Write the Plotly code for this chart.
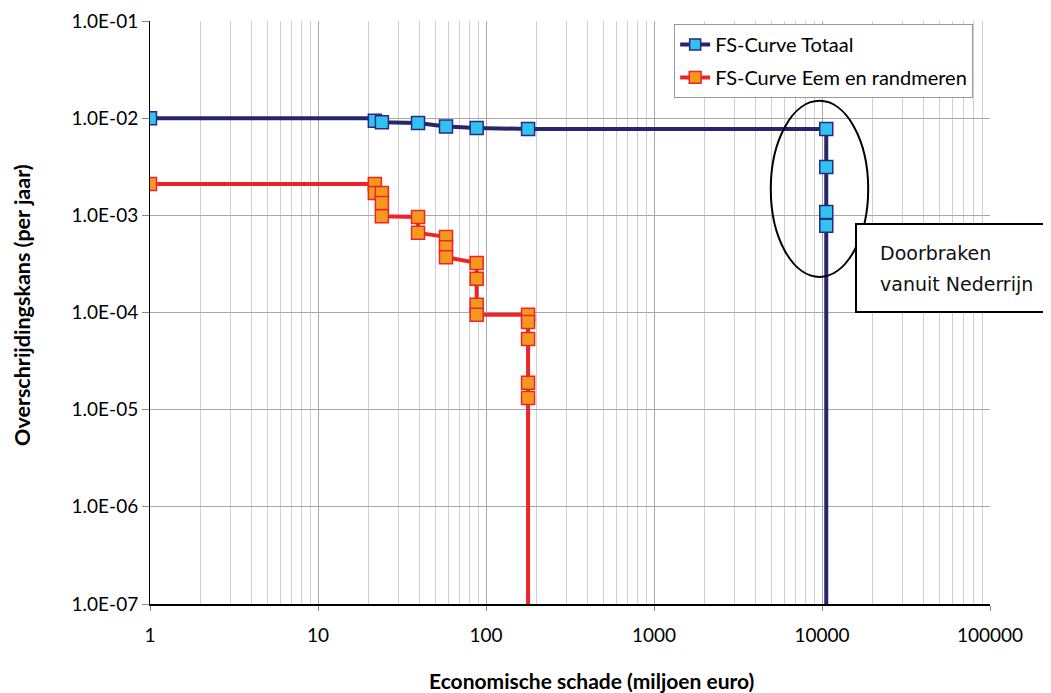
import plotly.graph_objects as go

# Data
totaal_x = [1, 21.8, 21.8, 24, 39.4, 57.8, 88, 178, 10600, 10600, 10600, 10600, 10600]
totaal_y = [1.0e-2, 1.0e-2, 9.4e-3, 9.1e-3, 8.9e-3, 8.2e-3, 7.9e-3, 7.75e-3, 7.75e-3, 3.15e-3, 1.08e-3, 7.8e-4, 1e-9]
totaal_marker = [1, 0, 1, 1, 1, 1, 1, 1, 1, 1, 1, 1, 0]

eem_x = [1, 21.8, 21.8, 21.8, 24, 24, 24, 39.4, 39.4, 57.8, 57.8, 57.8, 88, 88, 88, 88, 178, 178, 178, 178, 178, 178]
eem_y = [2.1e-3, 2.1e-3, 2.1e-3, 1.7e-3, 1.7e-3, 1.34e-3, 9.8e-4, 9.6e-4, 6.6e-4, 6.0e-4, 4.7e-4, 3.7e-4,
         3.24e-4, 2.22e-4, 1.2e-4, 9.5e-5, 9.5e-5, 8.0e-5, 5.35e-5, 1.89e-5, 1.32e-5, 1e-9]
eem_marker = [1, 0, 1, 1, 1, 1, 1, 1, 1, 1, 1, 1, 1, 1, 1, 1, 1, 1, 1, 1, 1, 0]

x_ticks = [1, 10, 100, 1000, 10000, 100000]
x_ticktext = ["1", "10", "100", "1000", "10000", "100000"]
y_ticks = [1e-7, 1e-6, 1e-5, 1e-4, 1e-3, 1e-2, 1e-1]
y_ticktext = ["1.0E-07", "1.0E-06", "1.0E-05", "1.0E-04", "1.0E-03", "1.0E-02", "1.0E-01"]
x_minor = [m * 10 ** k for k in range(5) for m in range(2, 10)]

MS = 13
FONT = "Lato, Open Sans, sans-serif"
fig = go.Figure()
fig.add_trace(go.Scatter(
    x=totaal_x, y=totaal_y, mode="lines+markers", name="FS-Curve Totaal",
    legendgroup="a",
    line=dict(color="#26266e", width=4),
    marker=dict(symbol="square", size=[MS * m for m in totaal_marker], color="#30c3f2", opacity=1,
                line=dict(color="#2a2a80", width=1.5)),
))
fig.add_trace(go.Scatter(
    x=eem_x, y=eem_y, mode="lines+markers", name="FS-Curve Eem en randmeren",
    legendgroup="b",
    line=dict(color="#ee2428", width=4),
    marker=dict(symbol="square", size=[MS * m for m in eem_marker], color="#f39a1e", opacity=1,
                line=dict(color="#ee2428", width=1.5)),
))

tick_font = dict(family=FONT, size=19, color="#000")

fig.update_layout(
    width=1051, height=693,
    margin=dict(l=142, r=69, t=13, b=97),
    paper_bgcolor="white", plot_bgcolor="white",
    showlegend=True,
    legend=dict(x=0.624, y=0.995, xanchor="left", yanchor="top",
                bgcolor="white", bordercolor="#999", borderwidth=1,
                font=dict(family=FONT, size=20, color="#000"),
                tracegroupgap=4, itemwidth=30),
    xaxis=dict(
        type="log", range=[0, 5], tickmode="array", tickvals=x_ticks, ticktext=x_ticktext,
        showgrid=True, gridcolor="#a8a8a8", gridwidth=1,
        minor=dict(tickmode="array", tickvals=x_minor, showgrid=True, gridcolor="#cfcfcf", gridwidth=1),
        showline=True, linecolor="#000", linewidth=1.5,
        ticks="outside", ticklen=5, tickcolor="#888",
        tickfont=tick_font, ticklabelstandoff=8, zeroline=False, automargin=False,
    ),
    yaxis=dict(
        type="log", range=[-7, -1], tickmode="array", tickvals=y_ticks, ticktext=y_ticktext,
        showgrid=True, gridcolor="#a8a8a8", gridwidth=1,
        showline=True, linecolor="#000", linewidth=1,
        ticks="outside", ticklen=7, tickcolor="#888",
        tickfont=tick_font, zeroline=False, automargin=False,
    ),
)

# Axis titles (positioned as in the reference, centred on the chart area)
fig.add_annotation(xref="paper", yref="paper", x=0.526, y=-0.131, xanchor="center", yanchor="middle",
                   text="<b>Economische schade (miljoen euro)</b>", showarrow=False,
                   font=dict(family=FONT, size=21, color="#000"))
fig.add_annotation(xref="paper", yref="paper", x=-0.1524, y=0.513, xanchor="center", yanchor="middle",
                   text="<b>Overschrijdingskans (per jaar)</b>", showarrow=False, textangle=-90,
                   font=dict(family=FONT, size=21.5, color="#000"))

# Ellipse around Nederrijn breaches
fig.add_shape(type="circle", xref="paper", yref="paper",
              x0=0.739, x1=0.855, y0=0.561, y1=0.863,
              line=dict(color="#000", width=2), layer="above")
# Text box
fig.add_shape(type="rect", xref="paper", yref="paper",
              x0=0.8405, x1=1.069, y0=0.501, y1=0.652,
              line=dict(color="#000", width=2), fillcolor="white", layer="above")
ann_font = dict(family="DejaVu Sans, Verdana, sans-serif", size=19, color="#111")
fig.add_annotation(xref="paper", yref="paper", x=0.8667, y=0.602, xanchor="left", yanchor="middle",
                   text="Doorbraken", showarrow=False, align="left", font=ann_font)
fig.add_annotation(xref="paper", yref="paper", x=0.8667, y=0.549, xanchor="left", yanchor="middle",
                   text="vanuit Nederrijn", showarrow=False, align="left", font=ann_font)

fig.write_html("out.html")
